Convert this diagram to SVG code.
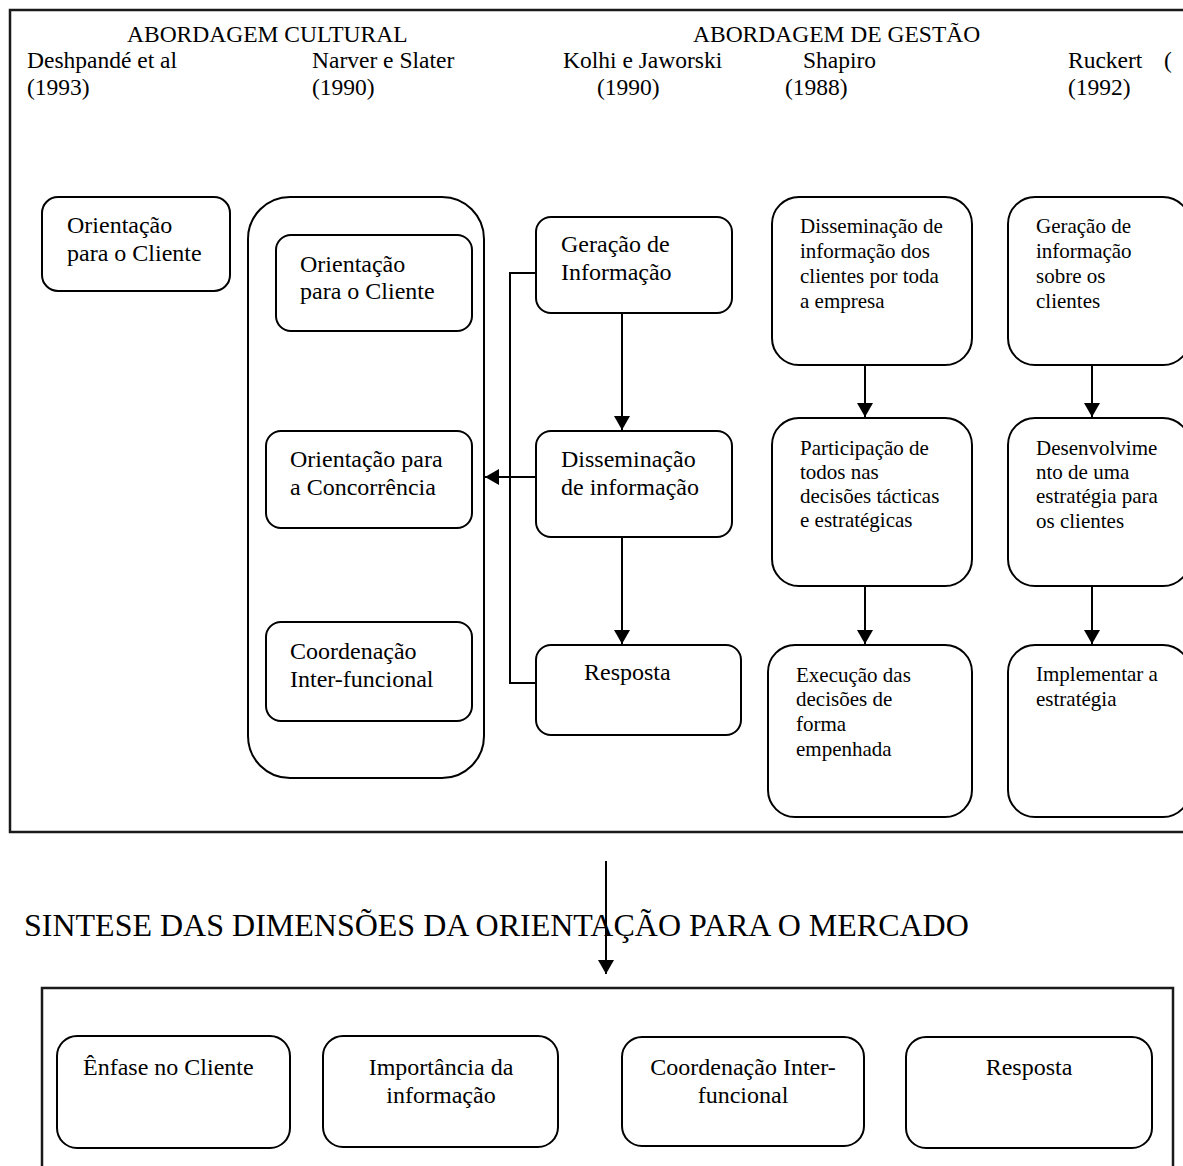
<svg xmlns="http://www.w3.org/2000/svg" width="1183" height="1166" viewBox="0 0 1183 1166" font-family="'Liberation Serif', 'DejaVu Serif', serif">
<style>
text{font-family:'Liberation Serif','DejaVu Serif',serif;fill:#000}
.h{font-size:23.5px}
.m{font-size:24px}
.s{font-size:21px}
.t{font-size:32px}
.b{fill:#fff;stroke:#000;stroke-width:2}
.frame{fill:none;stroke:#1a1a1a;stroke-width:2.5}
.c{fill:none;stroke:#000;stroke-width:2}
.ctr{text-anchor:middle}
</style>
<defs>
<marker id="ah" viewBox="0 0 14 16" refX="14" refY="8" markerWidth="14" markerHeight="16" orient="auto" markerUnits="userSpaceOnUse">
<path d="M0,0 L14,8 L0,16 z" fill="#000"/>
</marker>
</defs>
<rect width="1183" height="1166" fill="#fff"/>

<g id="frame-top">
<rect class="frame" x="10" y="10" width="1185" height="822"/>
</g>

<g id="headers">
<text class="h" x="127" y="42">ABORDAGEM CULTURAL</text>
<text class="h" x="693" y="42">ABORDAGEM DE GESTÃO</text>
<text class="h" x="27" y="68">Deshpandé et al</text>
<text class="h" x="27" y="95">(1993)</text>
<text class="h" x="312" y="68">Narver e Slater</text>
<text class="h" x="312" y="95">(1990)</text>
<text class="h" x="563" y="68">Kolhi e Jaworski</text>
<text class="h" x="597" y="95">(1990)</text>
<text class="h" x="803" y="68">Shapiro</text>
<text class="h" x="785" y="95">(1988)</text>
<text class="h" x="1068" y="68">Ruckert<tspan x="1164">(</tspan></text>
<text class="h" x="1068" y="95">(1992)</text>
</g>

<g id="connectors">
<polyline class="c" points="536,273 510,273 510,683 536,683"/>
<line class="c" x1="622" y1="313" x2="622" y2="430" marker-end="url(#ah)"/>
<line class="c" x1="622" y1="537" x2="622" y2="644" marker-end="url(#ah)"/>
<line class="c" x1="536" y1="477" x2="485" y2="477" marker-end="url(#ah)"/>
<line class="c" x1="865" y1="365" x2="865" y2="417" marker-end="url(#ah)"/>
<line class="c" x1="865" y1="586" x2="865" y2="644" marker-end="url(#ah)"/>
<line class="c" x1="1092" y1="365" x2="1092" y2="417" marker-end="url(#ah)"/>
<line class="c" x1="1092" y1="586" x2="1092" y2="644" marker-end="url(#ah)"/>
<line class="c" x1="606" y1="861" x2="606" y2="974" marker-end="url(#ah)"/>
</g>

<g id="n-deshpande">
<rect class="b" x="42" y="197" width="188" height="94" rx="16"/>
<text class="m" x="67" y="233">Orientação</text>
<text class="m" x="67" y="261">para o Cliente</text>
</g>

<g id="n-narver">
<rect class="b" x="248" y="197" width="236" height="581" rx="42"/>
</g>

<g id="n-cliente">
<rect class="b" x="276" y="235" width="196" height="96" rx="15"/>
<text class="m" x="300" y="272">Orientação</text>
<text class="m" x="300" y="299">para o Cliente</text>
</g>

<g id="n-concorrencia">
<rect class="b" x="266" y="431" width="206" height="97" rx="15"/>
<text class="m" x="290" y="467">Orientação para</text>
<text class="m" x="290" y="495">a Concorrência</text>
</g>

<g id="n-coordenacao">
<rect class="b" x="266" y="622" width="206" height="99" rx="15"/>
<text class="m" x="290" y="659">Coordenação</text>
<text class="m" x="290" y="687">Inter-funcional</text>
</g>

<g id="n-geracao">
<rect class="b" x="536" y="217" width="196" height="96" rx="15"/>
<text class="m" x="561" y="252">Geração de</text>
<text class="m" x="561" y="280">Informação</text>
</g>

<g id="n-disseminacao">
<rect class="b" x="536" y="431" width="196" height="106" rx="15"/>
<text class="m" x="561" y="467">Disseminação</text>
<text class="m" x="561" y="495">de informação</text>
</g>

<g id="n-resposta">
<rect class="b" x="536" y="645" width="205" height="90" rx="15"/>
<text class="m" x="584" y="680">Resposta</text>
</g>

<g id="n-shapiro1">
<rect class="b" x="772" y="197" width="200" height="168" rx="27"/>
<text class="s" x="800" y="233">Disseminação de</text>
<text class="s" x="800" y="258">informação dos</text>
<text class="s" x="800" y="283">clientes por toda</text>
<text class="s" x="800" y="308">a empresa</text>
</g>

<g id="n-shapiro2">
<rect class="b" x="772" y="418" width="200" height="168" rx="27"/>
<text class="s" x="800" y="455">Participação de</text>
<text class="s" x="800" y="479">todos nas</text>
<text class="s" x="800" y="503">decisões tácticas</text>
<text class="s" x="800" y="527">e estratégicas</text>
</g>

<g id="n-shapiro3">
<rect class="b" x="768" y="645" width="204" height="172" rx="27"/>
<text class="s" x="796" y="682">Execução das</text>
<text class="s" x="796" y="706">decisões de</text>
<text class="s" x="796" y="731">forma</text>
<text class="s" x="796" y="756">empenhada</text>
</g>

<g id="n-ruckert1">
<rect class="b" x="1008" y="197" width="182" height="168" rx="27"/>
<text class="s" x="1036" y="233">Geração de</text>
<text class="s" x="1036" y="258">informação</text>
<text class="s" x="1036" y="283">sobre os</text>
<text class="s" x="1036" y="308">clientes</text>
</g>

<g id="n-ruckert2">
<rect class="b" x="1008" y="418" width="182" height="168" rx="27"/>
<text class="s" x="1036" y="455">Desenvolvime</text>
<text class="s" x="1036" y="479">nto de uma</text>
<text class="s" x="1036" y="503">estratégia para</text>
<text class="s" x="1036" y="528">os clientes</text>
</g>

<g id="n-ruckert3">
<rect class="b" x="1008" y="645" width="182" height="172" rx="27"/>
<text class="s" x="1036" y="681">Implementar a</text>
<text class="s" x="1036" y="706">estratégia</text>
</g>

<g id="title">
<text class="t" x="24" y="936">SINTESE DAS DIMENSÕES DA ORIENTAÇÃO PARA O MERCADO</text>
</g>

<g id="frame-bottom">
<rect class="frame" x="42" y="988" width="1131" height="220"/>
</g>

<g id="n-enfase">
<rect class="b" x="57" y="1036" width="233" height="112" rx="20"/>
<text class="m" x="83" y="1075">Ênfase no Cliente</text>
</g>

<g id="n-importancia">
<rect class="b" x="323" y="1036" width="235" height="111" rx="20"/>
<text class="m ctr" x="441" y="1075">Importância da</text>
<text class="m ctr" x="441" y="1103">informação</text>
</g>

<g id="n-coord-inter">
<rect class="b" x="622" y="1037" width="242" height="109" rx="20"/>
<text class="m ctr" x="743" y="1075">Coordenação Inter-</text>
<text class="m ctr" x="743" y="1103">funcional</text>
</g>

<g id="n-resposta2">
<rect class="b" x="906" y="1037" width="246" height="111" rx="20"/>
<text class="m ctr" x="1029" y="1075">Resposta</text>
</g>
</svg>
